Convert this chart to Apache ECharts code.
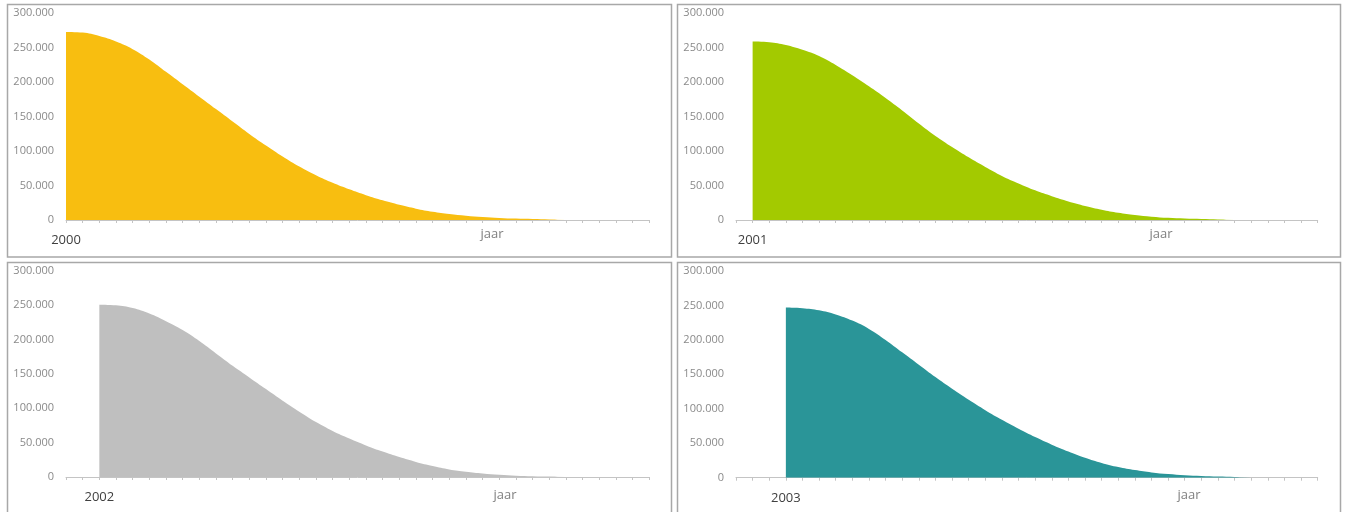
<!DOCTYPE html>
<html>
<head>
<meta charset="utf-8">
<script src="https://cdn.jsdelivr.net/npm/echarts@6/dist/echarts.min.js"></script>
<style>
html,body{margin:0;padding:0;background:#fff;}
#c{width:1347px;height:512px;}
</style>
</head>
<body>
<div id="c"></div>
<script>
// ---- data ----
const categories = ['2000','2001','2002','2003','2004','2005','2006','2007','2008','2009',
  '2010','2011','2012','2013','2014','2015','2016','2017','2018','2019',
  '2020','2021','2022','2023','2024','2025','2026','2027','2028','2029',
  '2030','2031','2032','2033','2034','2035'];
const yTicks = [0, 50000, 100000, 150000, 200000, 250000, 300000];
const startIndex = [0, 1, 2, 3];
const axisTitle = 'jaar';
// values (from the start year onward)
const values2000 = [273000,272000,267000,259000,248000,233000,215000,197000,179000,161000,
  143000,125000,108000,92000,77500,65000,54000,44500,36000,28500,
  22000,16500,12000,8800,6300,4400,3000,2000,1300,800,400];
const values2001 = [259000,258000,254000,247000,238000,225000,210000,194000,177000,159000,
  140000,122000,106000,91000,77000,64000,53000,43000,34500,27000,
  20500,15000,10500,7200,4800,3100,2000,1300,700,300];
const values2002 = [251000,250000,246000,238000,227000,214000,198000,180000,162000,145000,
  128000,111000,95000,80000,67000,56000,46000,37000,29000,22000,
  16000,11000,7500,5000,3200,2000,1200,600,200];
const values2003 = [247000,246000,243000,237000,228000,216000,200000,182000,164000,146000,
  129000,113000,98000,84000,71000,59000,48000,38000,29000,21500,
  15500,11000,7700,5300,3600,2500,1700,1100,500];
const seriesValues = [values2000, values2001, values2002, values2003];
const colors = ['#F8BE10', '#A3CA00', '#BFBFBF', '#2A9598'];

// ---- layout ----
const grids = [
  {left: 66, top: 13.3, width: 583.3, height: 206.7},
  {left: 736, top: 13.3, width: 581.7, height: 206.7},
  {left: 66, top: 271, width: 583.3, height: 206},
  {left: 736, top: 271, width: 581.7, height: 206.7}
];
const frames = [
  {x: 7.5, y: 4.5, width: 664, height: 252.5},
  {x: 677.5, y: 4.5, width: 663, height: 252.5},
  {x: 7.5, y: 262.5, width: 664, height: 270},
  {x: 677.5, y: 262.5, width: 663, height: 270}
];
const titlePos = [[492, 234], [1161, 234], [505, 495], [1189, 495]];

function fmt(v){
  return String(v).replace(/\B(?=(\d{3})+(?!\d))/g, '.');
}

const chart = echarts.init(document.getElementById('c'), null, {renderer: 'canvas'});
const option = {
  animation: false,
  backgroundColor: '#fff',
  textStyle: {fontFamily: 'Open Sans'},
  grid: grids.map(g => Object.assign({containLabel: false}, g)),
  xAxis: grids.map((g, i) => ({
    type: 'category',
    gridIndex: i,
    data: categories,
    boundaryGap: false,
    axisLine: {show: true, lineStyle: {color: '#c4c4c4', width: 1}},
    axisTick: {show: true, interval: 0, length: 3, lineStyle: {color: '#c4c4c4'}},
    axisLabel: {
      interval: (idx) => idx === startIndex[i],
      color: '#404040',
      fontSize: 13,
      fontFamily: 'Open Sans',
      margin: 14
    },
    splitLine: {show: false}
  })),
  yAxis: grids.map((g, i) => ({
    type: 'value',
    gridIndex: i,
    min: yTicks[0],
    max: yTicks[yTicks.length - 1],
    interval: yTicks[1] - yTicks[0],
    axisLine: {show: false},
    axisTick: {show: false},
    splitLine: {show: false},
    axisLabel: {
      formatter: fmt,
      color: '#8a8a8a',
      fontSize: 11,
      fontFamily: 'Open Sans',
      margin: 12
    }
  })),
  series: seriesValues.map((vals, i) => ({
    type: 'line',
    xAxisIndex: i,
    yAxisIndex: i,
    data: new Array(startIndex[i]).fill(null).concat(vals),
    symbol: 'none',
    smooth: 0.4,
    lineStyle: {width: 0},
    areaStyle: {color: colors[i], opacity: 1},
    itemStyle: {color: colors[i]},
    z: 2
  })),
  graphic: frames.map(f => ({
    type: 'rect',
    shape: f,
    style: {fill: 'none', stroke: '#a8a8a8', lineWidth: 1.5},
    silent: true,
    z: 10
  })).concat(titlePos.map(p => ({
    type: 'text',
    x: p[0], y: p[1],
    style: {
      text: axisTitle,
      fill: '#808080',
      font: '13px "Open Sans"',
      textAlign: 'center',
      textVerticalAlign: 'middle'
    },
    silent: true
  })))
};
chart.setOption(option);
</script>
</body>
</html>
